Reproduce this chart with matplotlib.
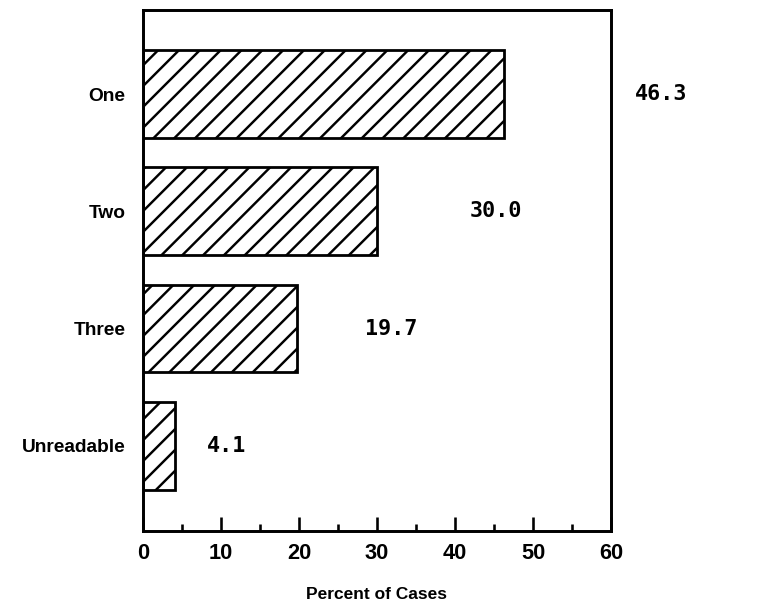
import matplotlib
matplotlib.use("Agg")
import matplotlib.pyplot as plt
import numpy as np
from matplotlib.ticker import MultipleLocator

# data
categories = ["One", "Two", "Three", "Unreadable"]
percents = [46.3, 30.0, 19.7, 4.1]
value_labels = ["46.3", "30.0", "19.7", "4.1"]
xticks = [0, 10, 20, 30, 40, 50, 60]

plt.rcParams['font.family'] = ['Liberation Sans', 'DejaVu Sans']
plt.rcParams['hatch.linewidth'] = 1.4

fig = plt.figure(figsize=(6.08, 4.896), dpi=125)
ax = fig.add_axes([0.188, 0.132, 0.616, 0.852])

y = np.arange(len(categories))
ax.barh(y, percents, height=0.75, color="white", edgecolor="black",
        linewidth=1.6, hatch="//")

# value labels sit further right for the longer bars, as in the original
for yi, v, s in zip(y, percents, value_labels):
    ax.text(v * 1.3 + 2.9, yi, s, ha="left", va="center", fontsize=12.5,
            fontweight="bold", family="DejaVu Sans Mono", clip_on=False)

ax.set_xlim(0, 60)
ax.set_ylim(3.73, -0.72)
ax.set_yticks(y)
ax.set_yticklabels(categories, fontsize=11, fontweight="bold")
ax.tick_params(axis="y", length=0, pad=10)

ax.set_xticks(xticks)
ax.set_xticklabels([str(t) for t in xticks], fontsize=12.5, fontweight="bold",
                   family=["Liberation Sans Narrow", "Liberation Sans"])
ax.xaxis.set_minor_locator(MultipleLocator(5))
ax.tick_params(axis="x", which="major", direction="in", length=8, width=1.5, pad=7)
ax.tick_params(axis="x", which="minor", direction="in", length=4, width=1.5)
ax.set_xlabel("Percent of Cases", fontsize=10, fontweight="bold", labelpad=13)

for sp in ax.spines.values():
    sp.set_linewidth(1.7)

fig.savefig("out.png", dpi=125)
